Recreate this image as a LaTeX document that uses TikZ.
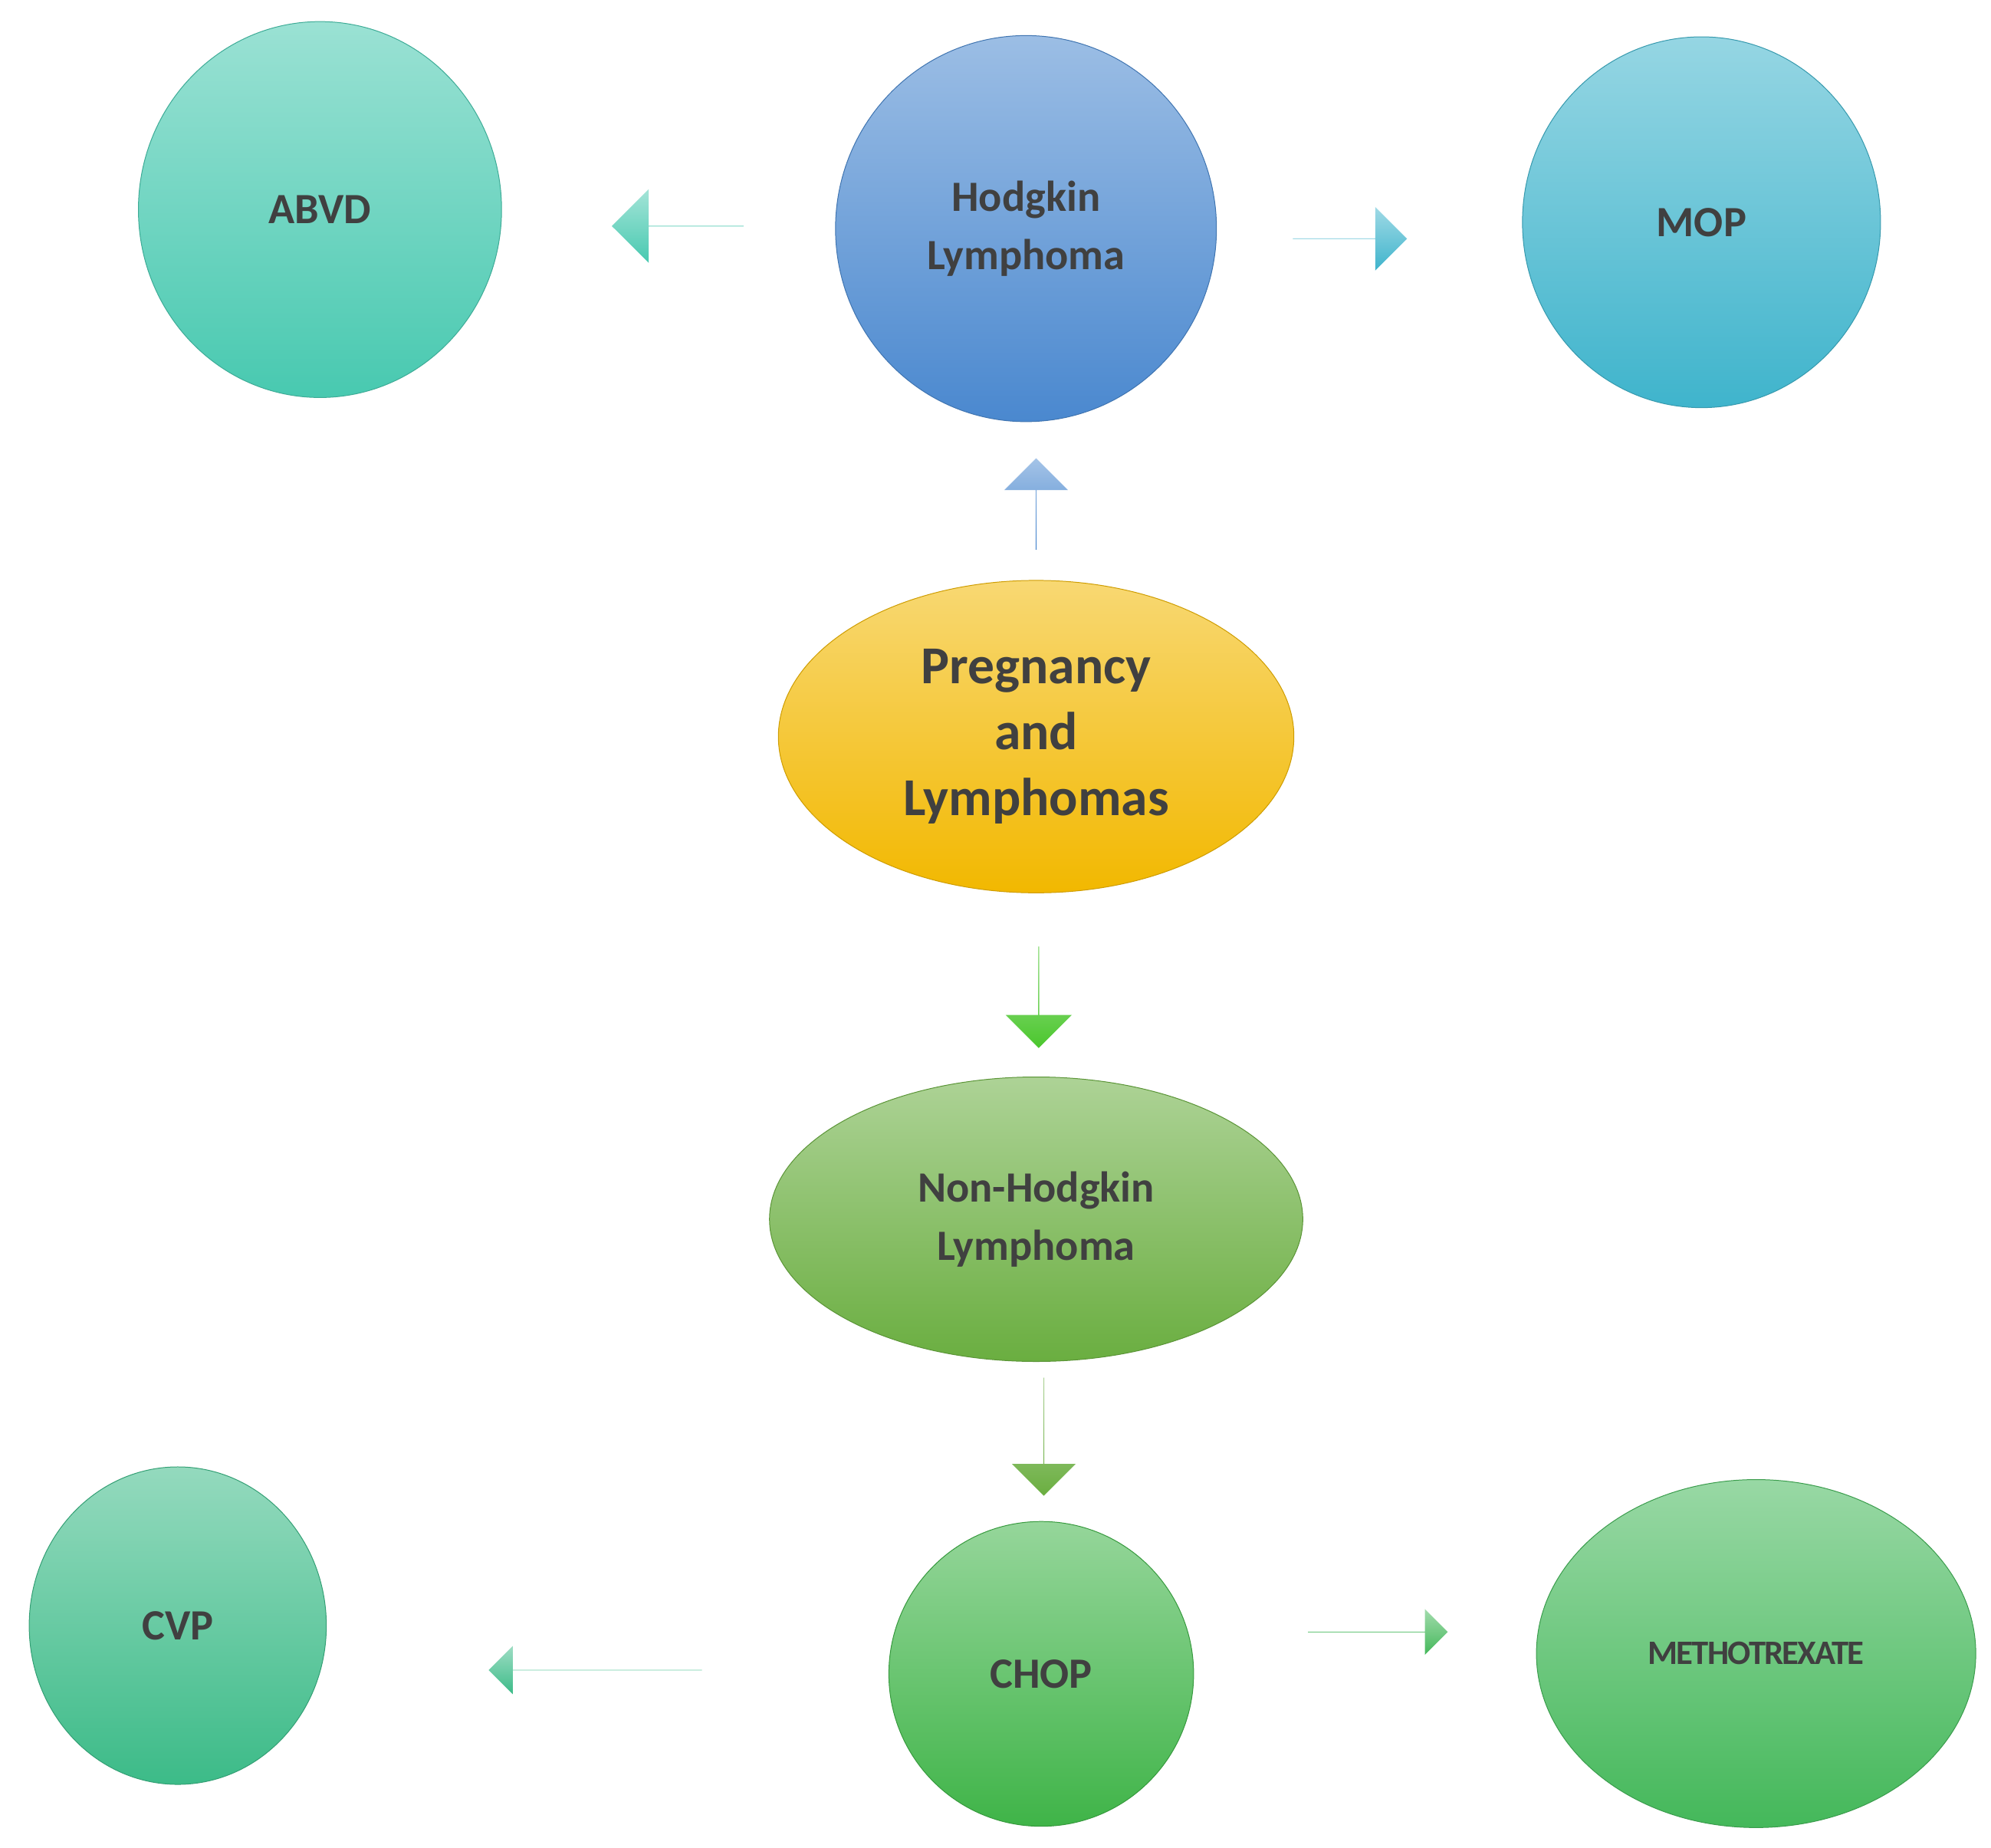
\documentclass[tikz,border=0pt]{standalone}
\usepackage{fontspec}
\setmainfont{Carlito}
\usetikzlibrary{shapes.geometric,shapes.arrows}
\definecolor{txt}{HTML}{404040}
\definecolor{cabvd}{HTML}{48C9B0}
\definecolor{chod}{HTML}{4A88CF}
\definecolor{cmop}{HTML}{3FB4CC}
\definecolor{cpreg}{HTML}{F2B800}
\definecolor{cnhl}{HTML}{6AAE40}
\definecolor{ccvp}{HTML}{3CBB88}
\definecolor{cchop}{HTML}{3FB448}
\definecolor{cmeth}{HTML}{44B85A}
\tikzset{
  blob/.style={ellipse, inner sep=0pt, line width=0.6pt, text=txt,
     font=\bfseries\fontsize{34}{46}\selectfont, align=center},
  fillc/.style={draw=#1!85!black, top color=#1!55!white, bottom color=#1},
  barrow/.style={single arrow, draw=none, inner sep=0pt, single arrow head extend=18pt,
     top color=#1!50!white, bottom color=#1}
}
\begin{document}
\begin{tikzpicture}[x=1pt,y=-1pt]
\useasboundingbox[fill=white] (0,0) rectangle (1568,1455);
\node[blob, fillc=cabvd, minimum width=286, minimum height=296] (abvd) at (252,165) {ABVD};
\node[blob, fillc=chod, minimum width=300, minimum height=304] (hod) at (808,180) {Hodgkin\\Lymphoma};
\node[blob, fillc=cmop, minimum width=282, minimum height=292] (mop) at (1340,175) {MOP};
\node[blob, fillc=cpreg, minimum width=406, minimum height=246, font=\bfseries\fontsize{42}{52}\selectfont] (preg) at (816,580) {Pregnancy\\and\\Lymphomas};
\node[blob, fillc=cnhl, minimum width=420, minimum height=224] (nhl) at (816,960) {Non-Hodgkin\\Lymphoma};
\node[blob, fillc=ccvp, minimum width=234, minimum height=250] (cvp) at (140,1280) {CVP};
\node[blob, fillc=cchop, minimum width=240, minimum height=240] (chop) at (820,1318) {CHOP};
\node[blob, fillc=cmeth, minimum width=346, minimum height=274, font=\bfseries\fontsize{27}{30}\selectfont] (meth) at (1383,1302) {\addfontfeatures{LetterSpace=-4}METHOTREXATE};
% block arrows
\node[barrow=cabvd, minimum height=104, minimum width=58, single arrow head extend=18pt, shape border rotate=180] (a1) at (534,178) {};
\node[barrow=cmop, minimum height=90, minimum width=50, single arrow head extend=22pt] (a2) at (1063,188) {};
\node[barrow=chod, minimum height=72, minimum width=50, single arrow head extend=14pt, shape border rotate=90] (a3) at (816,397) {};
\node[barrow=cnhl!70!green, minimum height=80, minimum width=52, single arrow head extend=12pt, shape border rotate=270] (a4) at (818,785) {};
\node[barrow=cnhl, minimum height=93, minimum width=50, single arrow head extend=14pt, shape border rotate=270] (a5) at (822,1131) {};
\node[barrow=ccvp, minimum height=168, minimum width=38, single arrow head extend=14pt, shape border rotate=180] (a6) at (469,1315) {};
\node[barrow=cmeth, minimum height=110, minimum width=36, single arrow head extend=13pt] (a7) at (1085,1285) {};
\end{tikzpicture}
\end{document}
